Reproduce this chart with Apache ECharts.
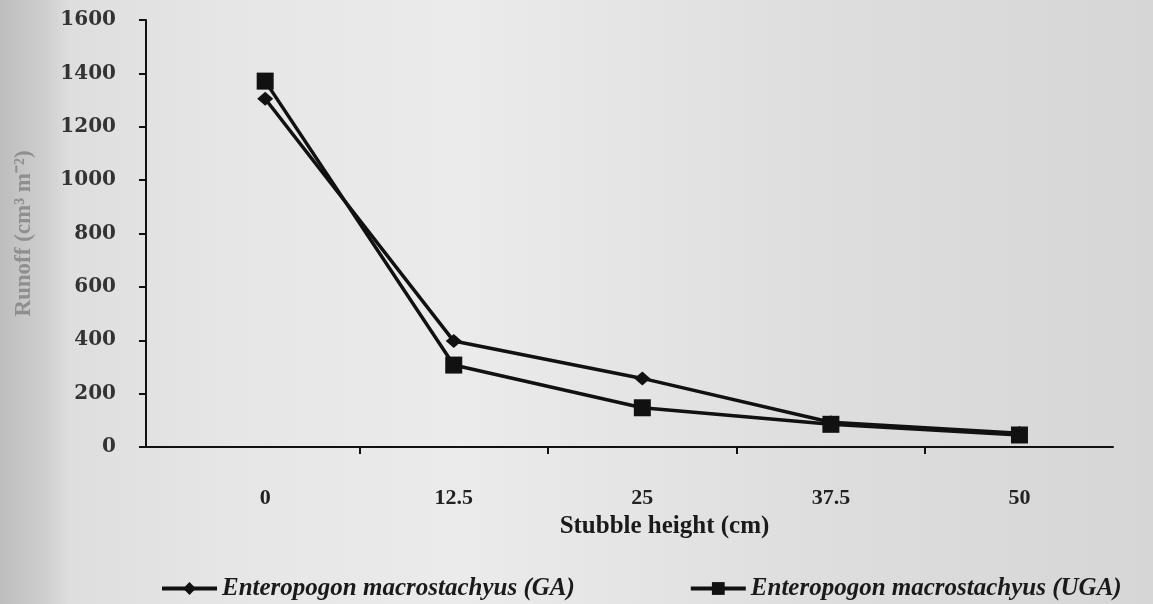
<!DOCTYPE html>
<html>
<head>
<meta charset="utf-8">
<script src="https://cdn.jsdelivr.net/npm/echarts@6/dist/echarts.min.js"></script>
<style>
  html, body { margin: 0; padding: 0; }
  #chart { width: 1153px; height: 604px; }
</style>
</head>
<body>
<div id="chart"></div>
<script>
const chart = echarts.init(document.getElementById("chart"));

const heights = [0, 12.5, 25, 37.5, 50];
const tickPositions = [6.25, 18.75, 31.25, 43.75];
const runoffGA = [1305, 397, 257, 93, 52];
const runoffUGA = [1371, 307, 147, 85, 45];
const seriesNames = ["Enteropogon macrostachyus (GA)", "Enteropogon macrostachyus (UGA)"];

const serif = "Liberation Serif";
const toPairs = vals => heights.map((h, i) => [h, vals[i]]);

chart.setOption({
  backgroundColor: new echarts.graphic.LinearGradient(0, 0, 1, 0, [
    { offset: 0, color: "#bdbdbd" },
    { offset: 0.04, color: "#cfcfcf" },
    { offset: 0.06, color: "#dedede" },
    { offset: 0.2, color: "#e6e6e6" },
    { offset: 0.4, color: "#ebebeb" },
    { offset: 0.7, color: "#dedede" },
    { offset: 1, color: "#d6d6d6" }
  ]),
  grid: { left: 146, right: 40, top: 20, bottom: 157 },
  legend: {
    left: 155,
    top: 571,
    itemWidth: 55,
    itemHeight: 16,
    itemGap: 114,
    lineStyle: { width: 4 },
    textStyle: { fontFamily: serif, fontStyle: "italic", fontWeight: "bold", fontSize: 25, color: "#1a1a1a" },
    data: seriesNames
  },
  xAxis: {
    type: "value",
    min: -7.9,
    max: 56.2,
    name: "Stubble height (cm)",
    nameLocation: "middle",
    nameGap: 62,
    nameTextStyle: { fontFamily: serif, fontWeight: "bold", fontSize: 25, color: "#1a1a1a", padding: [0, 0, 0, 70] },
    splitLine: { show: false },
    axisLine: { onZero: false, lineStyle: { color: "#111", width: 2 } },
    axisTick: { show: true, length: 7, customValues: tickPositions, lineStyle: { color: "#111", width: 2 } },
    axisLabel: {
      margin: 40,
      customValues: heights,
      fontFamily: serif, fontWeight: "bold", fontSize: 22, color: "#222"
    }
  },
  yAxis: {
    type: "value",
    min: 0,
    max: 1600,
    interval: 200,
    name: "Runoff (cm³ m⁻²)",
    nameLocation: "middle",
    nameGap: 110,
    nameTextStyle: { fontFamily: serif, fontWeight: "bold", fontSize: 23, color: "#8f8f8f" },
    splitLine: { show: false },
    axisLine: { show: true, onZero: false, lineStyle: { color: "#111", width: 2 } },
    axisTick: { show: true, length: 7, lineStyle: { color: "#111", width: 2 } },
    axisLabel: {
      margin: 30,
      formatter: v => String(v),
      fontFamily: "DejaVu Serif", fontWeight: "bold", fontSize: 20, color: "#333"
    }
  },
  series: [
    {
      name: seriesNames[0],
      type: "line",
      data: toPairs(runoffGA),
      symbol: "diamond",
      symbolSize: [16, 14],
      itemStyle: { color: "#111" },
      lineStyle: { color: "#111", width: 3.5 }
    },
    {
      name: seriesNames[1],
      type: "line",
      data: toPairs(runoffUGA),
      symbol: "rect",
      symbolSize: 17,
      itemStyle: { color: "#111" },
      lineStyle: { color: "#111", width: 3.5 }
    }
  ]
});
</script>
</body>
</html>
